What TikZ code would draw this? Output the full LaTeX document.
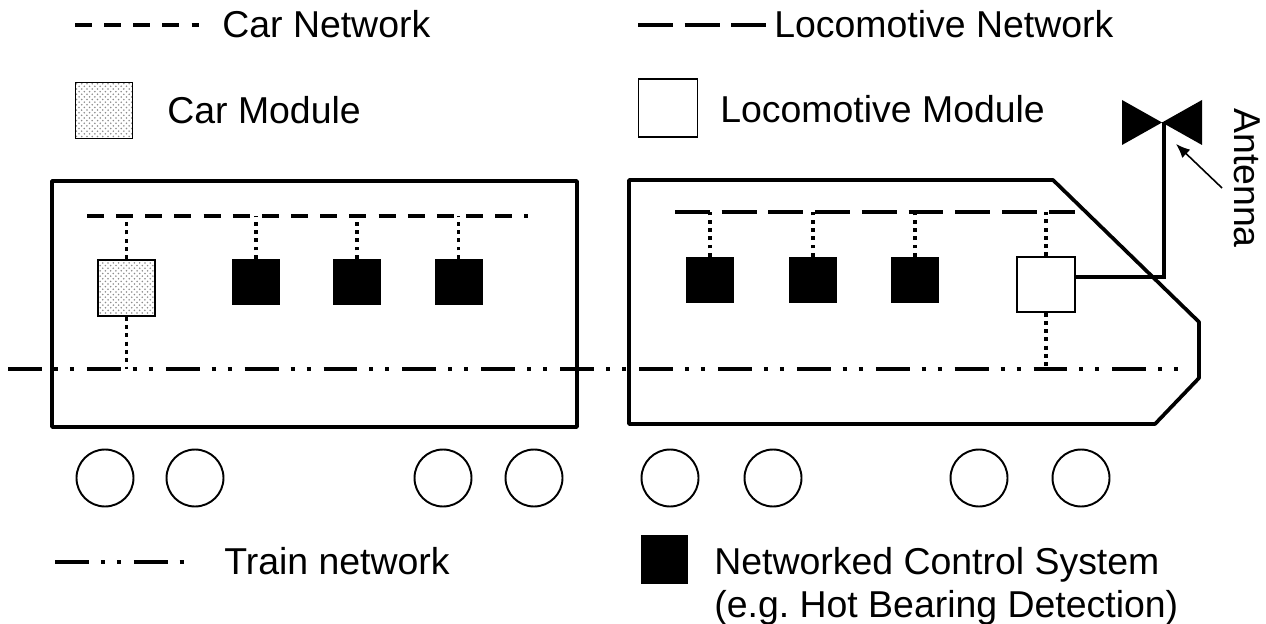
\documentclass[tikz,border=0pt]{standalone}
\usepackage{fontspec}
\setmainfont{Liberation Sans}
\usetikzlibrary{arrows}
\usetikzlibrary{arrows.meta}
\usetikzlibrary{patterns}
\usetikzlibrary{positioning}

\tikzset{
    body/.style={line width=2.1pt, line join=round},
    carnet/.style={line width=2.4pt, dash pattern=on 9.6pt off 7pt},
    loconet/.style={line width=2.4pt, dash pattern=on 19.8pt off 6.8pt},
    trainnet/.style={line width=2.4pt, dash pattern=on 19.3pt off 6.8pt on 2.3pt off 6.8pt on 2.3pt off 7.4pt},
    link/.style={line width=2.2pt, dash pattern=on 2.2pt off 2.5pt},
    ncs/.style={rectangle, fill=black, inner sep=0pt, minimum width=0.96cm, minimum height=0.92cm},
    carmod/.style={rectangle, draw, line width=1.1pt, inner sep=0pt, minimum width=1.14cm, minimum height=1.12cm,
        pattern=crosshatch dots, pattern color=black!45},
    locomod/.style={rectangle, draw, line width=0.8pt, fill=white, inner sep=0pt, minimum width=1.16cm, minimum height=1.1cm},
    wheel/.style={line width=1.1pt},
    legtext/.style={anchor=base west, inner sep=0pt, font=\fontsize{21.3}{24.5}\selectfont},
}

\begin{document}
\begin{tikzpicture}[x=0.02cm, y=-0.02cm]
    \useasboundingbox (0,0) rectangle (1266,624);

    % key
    \draw [carnet] (75,25) -- (199,25);
    \node [legtext] (carnetlbl) at (222,38) {Car Network};
    \draw [loconet] (638,25) -- (768,25);
    \node [legtext] (loconetlbl) at (774,38) {Locomotive Network};
    \node [carmod] (carmodkey) at (104,110.5) {};
    \node [legtext] (carmodlbl) at (167,124) {Car Module};
    \node [locomod, minimum width=1.18cm, minimum height=1.16cm] (locomodkey) at (668,108) {};
    \node [legtext] (locomodlbl) at (720,123) {Locomotive Module};
    \draw [trainnet] (55,562) -- (187,562);
    \node [legtext] (trainnetlbl) at (224,574) {Train network};
    \node [ncs, minimum width=0.94cm, minimum height=0.98cm] (ncskey) at (664.5,559.5) {};
    \node [legtext] (ncslbl) at (714,574) {Networked Control System};
    \node [legtext] (ncsnote) at (714,617) {(e.g.\ Hot Bearing Detection)};

    % car and locomotive bodies
    \draw [body] (52,181) rectangle (577,427);
    \draw [body] (629,180) -- (1053,180) -- (1199,322) -- (1199,378) -- (1155,424) -- (629,424) -- cycle;

    \coordinate (carnetL) at (87,216);
    \coordinate (carnetR) at (528,216);
    \coordinate (loconetL) at (675,212);
    \coordinate (loconetR) at (1075,212);
    \coordinate (trainL) at (8,369);
    \coordinate (trainR) at (1188,369);
    \draw [carnet] (carnetL) -- (carnetR);
    \draw [loconet] (loconetL) -- (loconetR);
    \draw [trainnet] (trainL) -- (trainR);

    \node [carmod] (cm) at (126.5,288) {};
    \foreach \i/\x in {1/256, 2/357, 3/458.5}
        \node [ncs] (cs\i) at (\x,282) {};
    \foreach \i/\x in {1/710, 2/813, 3/915}
        \node [ncs] (ls\i) at (\x,280) {};
    \node [locomod] (lm) at (1046,284.5) {};

    \foreach \n in {cm, cs1, cs2, cs3}
        \draw [link] (\n.north) -- (\n.north |- carnetL);
    \draw [link] (cm.south) -- (cm.south |- trainL);
    \foreach \n in {ls1, ls2, ls3, lm}
        \draw [link] (\n.north) -- (\n.north |- loconetL);
    \draw [link] (lm.south) -- (lm.south |- trainL);

    % antenna
    \coordinate (ant) at (1164,122);
    \coordinate (antfoot) at (1164,277);
    \fill (1122,100) -- (1122,145) -- (1202,100) -- (1202,145) -- cycle;
    \draw [line width=1.8pt] (lm.east |- antfoot) -- (antfoot) -- (ant);
    \node [rotate=-90, inner sep=0pt, font=\fontsize{21.3}{24.5}\selectfont] (antlbl) at (1247,178) {Antenna};
    \coordinate (antptr) at (1222,188);
    \coordinate (antpt) at (1176,144);
    \draw [-{Latex[length=8pt, width=6.5pt]}, line width=0.9pt] (antptr) -- (antpt);

    % wheels
    \foreach \x in {105, 195, 443, 534, 670, 773, 979, 1081}
        \draw [wheel] (\x,478) circle (0.57cm);
\end{tikzpicture}
\end{document}
